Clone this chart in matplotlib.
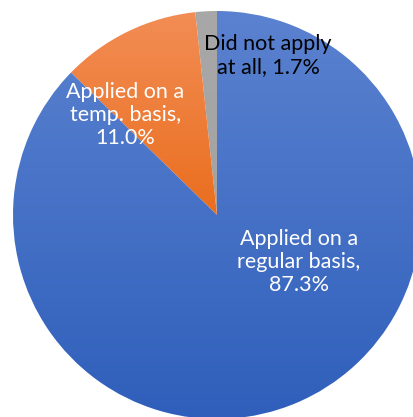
import matplotlib.pyplot as plt
import matplotlib.colors as mcolors
import numpy as np

labels = ['Did not apply\nat all, 1.7%', 'Applied on a\ntemp. basis,\n11.0%', 'Applied on a\nregular basis,\n87.3%']
values = [1.7, 11.0, 87.3]
# gradient colors (top, bottom) per slice
top_colors = ['#a8a8a8', '#f28d55', '#5b82d0']
bot_colors = ['#a3a3a3', '#ea6e1e', '#2f5fbb']
text_colors = ['black', 'white', 'white']
label_pos = [(0.25, 0.78), (-0.45, 0.49), (0.40, -0.23)]

plt.rcParams['font.family'] = ['Lato', 'DejaVu Sans']

fig = plt.figure(figsize=(4.14, 4.17), dpi=100)
ax = fig.add_axes([0, 0, 1, 1])
wedges, _ = ax.pie(values, startangle=90, counterclock=True, radius=1.0,
                   wedgeprops=dict(linewidth=0))

for w, c1, c2 in zip(wedges, top_colors, bot_colors):
    w.set_facecolor('none')
    ext = w.get_path().get_extents()
    cmap = mcolors.LinearSegmentedColormap.from_list('g', [c2, c1])
    grad = np.linspace(0, 1, 256).reshape(-1, 1)
    im = ax.imshow(grad, cmap=cmap, origin='lower', aspect='auto',
                   extent=[ext.x0, ext.x1, ext.y0, ext.y1], zorder=1)
    im.set_clip_path(w)

for lab, (x, y), tc in zip(labels, label_pos, text_colors):
    ax.text(x, y, lab, ha='center', va='center', color=tc, fontsize=15.5,
            linespacing=1.2, zorder=5)

ax.set_xlim(-217 / 204, (414 - 217) / 204)
ax.set_ylim(-(417 - 215) / 204, 215 / 204)
ax.set_aspect('auto')
ax.axis('off')
fig.savefig('out.png', dpi=100)
